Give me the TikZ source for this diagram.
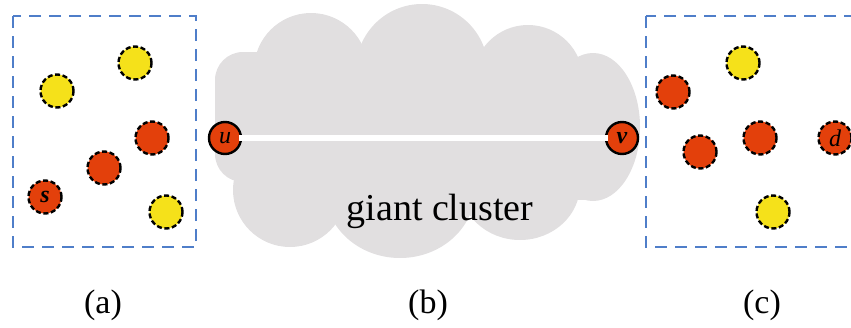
\documentclass[tikz,border=0pt]{standalone}
\usepackage{fontspec}
\setmainfont{Liberation Serif}
\definecolor{cloudgray}{HTML}{E1DFE0}
\definecolor{nodered}{HTML}{E3400B}
\definecolor{nodeyellow}{HTML}{F5E11A}
\definecolor{boxblue}{HTML}{4F7EC9}
\begin{document}
\begin{tikzpicture}[x=1pt,y=-1pt,
  region/.style={draw=boxblue,line width=2.6pt,dash pattern=on 12pt off 8pt},
  dot/.style={circle,minimum size=33pt,inner sep=0pt,draw=black,line width=2.4pt,dash pattern=on 5pt off 2.6pt,font=\fontsize{24}{26}\selectfont},
  reddot/.style={dot,fill=nodered},
  yellowdot/.style={dot,fill=nodeyellow},
  endnode/.style={circle,minimum size=32pt,inner sep=0pt,draw=black,line width=2.4pt,fill=nodered,font=\fontsize{24}{26}\selectfont},
  caption/.style={font=\fontsize{34}{36}\selectfont},
  puff/.style={fill=cloudgray,draw=none}]
\useasboundingbox (0,0) rectangle (851,327);
% regions
\draw[region] (13,16) rectangle (196,247);
\begin{scope}
\clip (0,0) rectangle (851,327);
\draw[region] (646,16) rectangle (880,247);
\end{scope}
% cloud
\fill[puff] (311,70) circle (57);
\fill[puff] (422,70) circle (66);
\fill[puff] (528,80) circle (55);
\fill[puff] (593,127) ellipse (47 and 74);
\fill[puff,rounded corners=28pt] (215,52) rectangle (300,182);
\fill[puff] (290,190) circle (57);
\fill[puff] (400,190) ellipse (75 and 68);
\fill[puff] (520,185) ellipse (60 and 55);
\fill[puff] (250,60) rectangle (600,200);
% giant cluster edge
\node[endnode] (u) at (225,138) {\itshape u};
\node[endnode] (v) at (622,138) {\itshape\bfseries v};
\path (u.center) ++(14,0) coordinate (ua);
\path (v.center) ++(-14,0) coordinate (vb);
\draw[white,line width=6pt] (ua) -- (vb);
\node[font=\fontsize{38}{40}\selectfont] (gc) at (440,211) {giant cluster};
% (a) nodes
\node[yellowdot] (a1) at (135,63) {};
\node[yellowdot] (a2) at (57,91) {};
\node[reddot] (a3) at (152,138) {};
\node[reddot] (a4) at (104,168) {};
\node[reddot] (s) at (45,197) {\itshape\bfseries s};
\node[yellowdot] (a6) at (166,212) {};
% (c) nodes
\node[yellowdot] (c1) at (743,63) {};
\node[reddot] (c2) at (673,92) {};
\node[reddot] (c3) at (700,152) {};
\node[reddot] (c4) at (760,138) {};
\node[reddot] (d) at (835,138) {\itshape d};
\node[yellowdot] (c6) at (773,212) {};
% captions
\node[caption] (la) at (103,305) {(a)};
\node[caption] (lb) at (428,305) {(b)};
\node[caption] (lc) at (762,305) {(c)};
\end{tikzpicture}
\end{document}
